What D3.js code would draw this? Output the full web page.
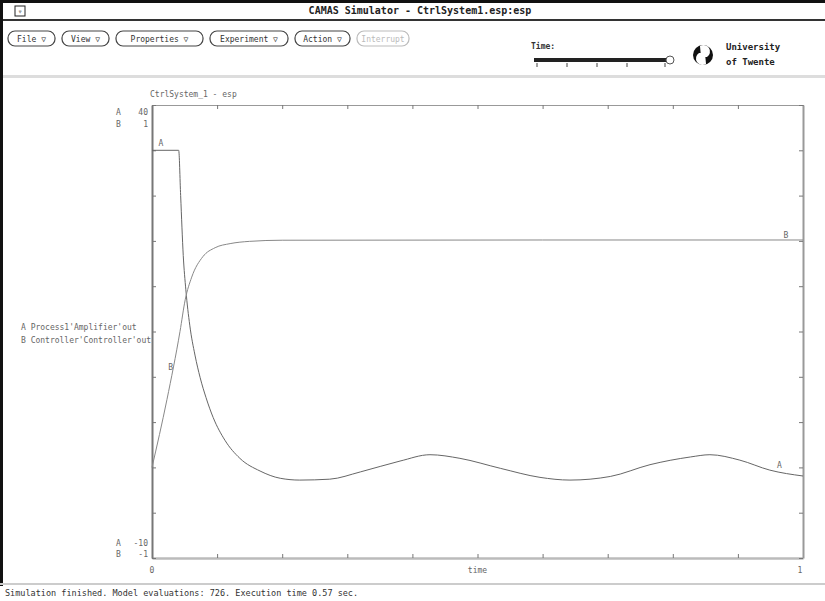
<!DOCTYPE html>
<html>
<head>
<meta charset="utf-8">
<script src="https://cdn.jsdelivr.net/npm/d3@7"></script>
<style>
  body { margin: 0; background: #fff; }
  svg { display: block; }
  text { font-family: "DejaVu Sans Mono", monospace; }
</style>
</head>
<body>
<svg id="chart"></svg>
<script>
// data (time 0..1)
const seriesA = [
  [0, 35], [0.041, 35], [0.044, 30], [0.048, 23.4], [0.052, 19.6], [0.058, 15.7],
  [0.066, 12.4], [0.074, 9.9], [0.083, 7.7], [0.094, 5.5], [0.112, 3.0], [0.135, 1.0],
  [0.166, -0.4], [0.197, -1.2], [0.227, -1.4], [0.273, -1.3], [0.32, -0.5], [0.381, 0.7],
  [0.427, 1.4], [0.473, 1.0], [0.535, -0.1], [0.596, -1.1], [0.642, -1.4], [0.704, -1.0],
  [0.765, 0.3], [0.827, 1.15], [0.857, 1.4], [0.903, 0.8], [0.949, -0.3], [1.0, -0.95]
];
const seriesB = [
  [0, -0.6], [0.023, -0.3], [0.043, 0.0], [0.051, 0.14], [0.061, 0.24], [0.078, 0.33],
  [0.097, 0.37], [0.12, 0.388], [0.15, 0.398], [0.2, 0.403], [0.6, 0.404], [1.0, 0.404]
];
const domainA = [-10, 40];
const domainB = [-1, 1];
const timeDomain = [0, 1];
const legendLines = ["A Process1'Amplifier'out", "B Controller'Controller'out"];
const buttons = ["File \u25BD", "View \u25BD", "Properties \u25BD", "Experiment \u25BD", "Action \u25BD", "Interrupt"];

let svgWidth = 825;
let svgHeight = 601;
let svg = d3.select('#chart').attr('width', svgWidth).attr('height', svgHeight);

// ---- window chrome ----
svg.append('rect').attr('x', 0).attr('y', 0).attr('width', svgWidth).attr('height', svgHeight).attr('fill', '#fff');
svg.append('rect').attr('x', 0).attr('y', 0).attr('width', svgWidth).attr('height', 3).attr('fill', '#111');
svg.append('rect').attr('x', 0).attr('y', 0).attr('width', 3).attr('height', 586).attr('fill', '#111');
svg.append('rect').attr('x', 15).attr('y', 6).attr('width', 10).attr('height', 10).attr('fill', 'none').attr('stroke', '#222');
svg.append('text').attr('x', 20).attr('y', 14).attr('text-anchor', 'middle').attr('font-size', 7).attr('fill', '#222').text('\u25BF');
svg.append('text').attr('x', 420).attr('y', 14).attr('text-anchor', 'middle')
  .attr('font-family', 'Liberation Sans Narrow, DejaVu Sans').attr('font-size', 10).attr('font-weight', 'bold')
  .attr('fill', '#222').text('CAMAS Simulator - CtrlSystem1.esp:esp');
svg.append('rect').attr('x', 3).attr('y', 19).attr('width', svgWidth).attr('height', 2).attr('fill', '#333');

// buttons
let bx = 8;
let btnWidths = [47, 47, 87, 78, 55, 52];
buttons.forEach((b, i) => {
  let g = svg.append('g').attr('transform', 'translate(' + bx + ',31)');
  g.append('rect').attr('width', btnWidths[i]).attr('height', 15).attr('rx', 7)
    .attr('fill', '#fff').attr('stroke', i === 5 ? '#bbb' : '#444').attr('stroke-width', 1.2);
  g.append('text').attr('x', btnWidths[i] / 2).attr('y', 11).attr('text-anchor', 'middle')
    .attr('font-family', 'DejaVu Sans').attr('font-size', 8).attr('fill', i === 5 ? '#bbb' : '#333').text(b);
  bx += btnWidths[i] + 7;
});

// time slider
svg.append('text').attr('x', 531).attr('y', 49).attr('font-family', 'DejaVu Sans')
  .attr('font-size', 8).attr('font-weight', 'bold').attr('fill', '#333').text('Time:');
svg.append('rect').attr('x', 534).attr('y', 58).attr('width', 134).attr('height', 4).attr('fill', '#222');
svg.append('circle').attr('cx', 670).attr('cy', 60).attr('r', 4).attr('fill', '#fff').attr('stroke', '#555');
[537, 567, 597, 627, 665].forEach(t => {
  svg.append('line').attr('x1', t).attr('x2', t).attr('y1', 63).attr('y2', 67).attr('stroke', '#444');
});
// logo
let logo = svg.append('g').attr('transform', 'translate(703,55)');
logo.append('circle').attr('r', 10).attr('fill', '#111');
logo.append('path').attr('d', 'M-3,-9 A6,6 0 0 1 4,2 L-2,2 Z').attr('fill', '#fff');
logo.append('path').attr('d', 'M3,9 A6,6 0 0 1 -4,-2 L2,-2 Z').attr('fill', '#fff');
svg.append('text').attr('x', 726).attr('y', 50).attr('font-family', 'DejaVu Sans')
  .attr('font-size', 9).attr('font-weight', 'bold').attr('fill', '#222').text('University');
svg.append('text').attr('x', 726).attr('y', 65).attr('font-family', 'DejaVu Sans')
  .attr('font-size', 9).attr('font-weight', 'bold').attr('fill', '#222').text('of Twente');
svg.append('rect').attr('x', 3).attr('y', 75).attr('width', svgWidth).attr('height', 3).attr('fill', '#ddd');

// status bar
svg.append('rect').attr('x', 0).attr('y', 583).attr('width', svgWidth).attr('height', 2).attr('fill', '#ccc');
svg.append('text').attr('x', 5).attr('y', 596).attr('font-family', 'DejaVu Sans').attr('font-size', 8.5)
  .attr('fill', '#333').text('Simulation finished.  Model evaluations: 726.  Execution time 0.57 sec.');

// ---- plot ----
let plotLeft = 152, plotRight = 803, plotTop = 105, plotBottom = 558;
let x = d3.scaleLinear().domain(timeDomain).range([plotLeft, plotRight]);
let yA = d3.scaleLinear().domain(domainA).range([plotBottom, plotTop]);
let yB = d3.scaleLinear().domain(domainB).range([plotBottom, plotTop]);

let tickVals = d3.range(0, 1.0001, 0.1);
let yTickVals = d3.range(-10, 40.001, 5);

let styleAxis = (col, w) => g => {
  g.select('.domain').attr('stroke', col).attr('stroke-width', w);
  g.selectAll('.tick line').attr('stroke', '#777');
};
svg.append('g').attr('transform', 'translate(0,' + plotTop + ')')
  .call(d3.axisTop(x).tickValues(tickVals).tickSizeInner(-4).tickSizeOuter(0).tickFormat(''))
  .call(styleAxis('#999', 1.2));
svg.append('g').attr('transform', 'translate(0,' + plotBottom + ')')
  .call(d3.axisBottom(x).tickValues(tickVals).tickSizeInner(-4).tickSizeOuter(0).tickFormat(''))
  .call(styleAxis('#bbb', 2.5));
svg.append('g').attr('transform', 'translate(' + plotLeft + ',0)')
  .call(d3.axisLeft(yA).tickValues(yTickVals).tickSizeInner(-4).tickSizeOuter(0).tickFormat(''))
  .call(styleAxis('#777', 2));
svg.append('g').attr('transform', 'translate(' + plotRight + ',0)')
  .call(d3.axisRight(yA).tickValues(yTickVals).tickSizeInner(-4).tickSizeOuter(0).tickFormat(''))
  .call(styleAxis('#999', 2));

let plotFont = 8;
let txt = (xx, yy, s, anchor) => svg.append('text').attr('x', xx).attr('y', yy)
  .attr('text-anchor', anchor || 'start').attr('font-size', plotFont).attr('fill', '#666').text(s);

txt(150, 97, 'CtrlSystem_1 - esp');
txt(116, 115, 'A');
txt(148, 115, domainA[1], 'end');
txt(116, 127, 'B');
txt(148, 127, domainB[1], 'end');
txt(116, 546, 'A');
txt(148, 546, domainA[0], 'end');
txt(116, 557, 'B');
txt(148, 557, domainB[0], 'end');
txt(x(0), 573, timeDomain[0], 'middle');
txt(x(0.5), 573, 'time', 'middle');
txt(x(1) - 3, 573, timeDomain[1], 'middle');

// legend, clipped at the frame
svg.append('clipPath').attr('id', 'legclip').append('rect')
  .attr('x', 0).attr('y', 300).attr('width', plotLeft - 1).attr('height', 60);
let leg = svg.append('g').attr('clip-path', 'url(#legclip)');
legendLines.forEach((s, i) => {
  leg.append('text').attr('x', 21).attr('y', 330 + i * 13).attr('font-size', plotFont)
    .attr('fill', '#666').text(s);
});

let lineA = d3.line().x(d => x(d[0])).y(d => yA(d[1])).curve(d3.curveMonotoneX);
let lineB = d3.line().x(d => x(d[0])).y(d => yB(d[1])).curve(d3.curveMonotoneX);
svg.append('path').attr('d', lineA(seriesA)).attr('fill', 'none').attr('stroke', '#666').attr('stroke-width', 1);
svg.append('path').attr('d', lineB(seriesB)).attr('fill', 'none').attr('stroke', '#888').attr('stroke-width', 1);

// curve markers
txt(x(0.01), yA(35) - 4, 'A');
txt(x(0.96), yA(-0.1), 'A');
txt(x(0.025), yB(0.0) + 38, 'B');
txt(x(0.97), yB(0.404) - 2, 'B');
</script>
</body>
</html>
